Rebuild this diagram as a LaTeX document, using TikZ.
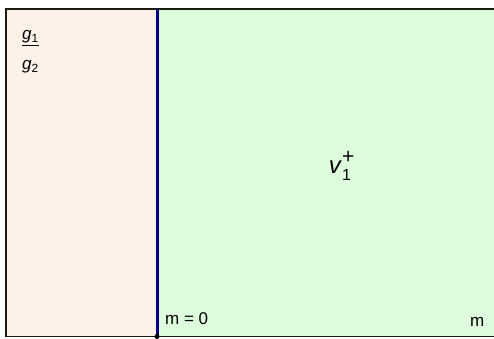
\documentclass[tikz,border=0pt]{standalone}
\usepackage{fontspec}
\setmainfont{Liberation Sans}
\definecolor{peach}{HTML}{FEF2E8}
\definecolor{mint}{HTML}{DDFDDC}
\definecolor{navy}{HTML}{000080}
\definecolor{frame}{HTML}{1A1A10}
% sans sub- and superscripts stacked
\newcommand{\sansidx}[1]{\textsubscript{#1}}
\newcommand{\sansboth}[2]{\rlap{\raisebox{0.42em}{\fontsize{21}{22}\selectfont #1}}{\raisebox{-0.3em}{\fontsize{16}{17}\selectfont #2}}}
\begin{document}
\begin{tikzpicture}[x=1pt,y=-1pt,font=\fontsize{17}{19}\selectfont]
  \useasboundingbox (0,0) rectangle (494,338);
  \begin{scope}
    \clip (0,0) rectangle (494,338);
    % the two regions
    \fill[peach] (5.5,8.5) rectangle (157,336.5);
    \fill[mint] (157,8.5) rectangle (500,336.5);
    % frame
    \draw[frame,line width=2pt] (5.5,336.5) -- (5.5,8.5) -- (500,8.5);
    \draw[frame,line width=1pt] (5.5,336.5) -- (500,336.5);
  \end{scope}
  % boundary m = 0
  \coordinate (top) at (157,8.5);
  \coordinate (foot) at (157,336.5);
  \draw[navy,line width=3pt] (top) -- (foot);
  \fill[black] (foot) circle (2.5pt);
  % labels
  \node[anchor=west,inner sep=0pt] (g1) at (22,38) {\underline{\textit{g}\sansidx{1}}};
  \node[anchor=west,inner sep=0pt] (g2) at (22,67) {\textit{g}\sansidx{2}};
  \node[inner sep=0pt,font=\fontsize{24}{26}\selectfont] (v1) at (340,166) {\textit{v}\sansboth{+}{1}};
  \node[anchor=west,inner sep=0pt] (m0) at (165,319) {m = 0};
  \node[anchor=west,inner sep=0pt] (m) at (470,322) {m};
\end{tikzpicture}
\end{document}
